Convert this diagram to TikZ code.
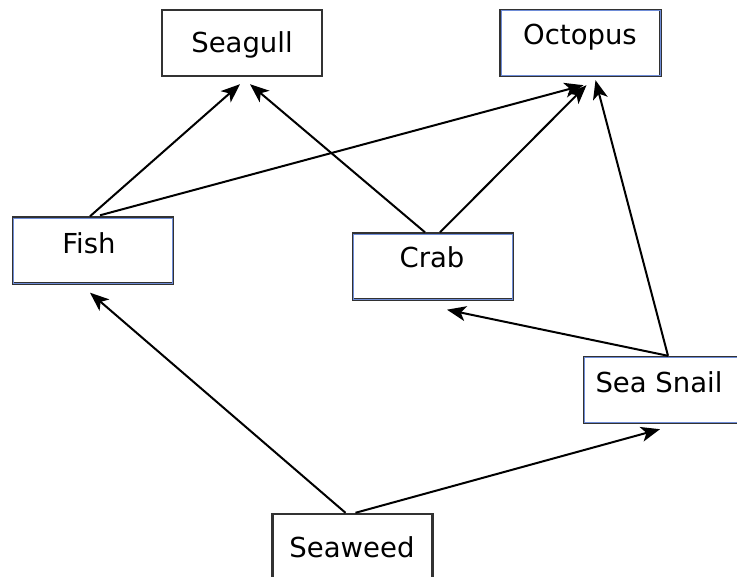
\documentclass[tikz,border=0pt]{standalone}
\usepackage{fontspec}
\setmainfont{DejaVu Sans}
\usetikzlibrary{arrows.meta}
\definecolor{edgeblue}{RGB}{110,140,215}
\definecolor{edgegray}{RGB}{50,50,50}
\begin{document}
\begin{tikzpicture}[x=1pt,y=-1pt,
  box/.style={draw=edgegray,line width=2.4pt,minimum width=160pt,minimum height=66pt,inner sep=0pt,fill=white},
  inner/.style={draw=edgeblue,line width=0.9pt},
  lbl/.style={anchor=base,inner sep=0pt,font=\fontsize{27.5}{31}\selectfont},
  arr/.style={line width=2pt,-{Stealth[length=19pt,width=15pt,inset=5pt]}}]
\useasboundingbox[fill=white] (0,0) rectangle (737,577);
% boxes
\node[box] (seagull) at (242,43) {};
\node[box] (octopus) at (580.5,43) {};
\node[box] (fish) at (93,250.5) {};
\node[box] (crab) at (433,266.5) {};
\node[box] (snail) at (664,390) {};
\node[box] (seaweed) at (352.5,547) {};
\foreach \n in {octopus,fish,crab,snail}
  \draw[inner] ([shift={(1.7pt,-1.7pt)}]\n.north west) rectangle ([shift={(-1.7pt,1.7pt)}]\n.south east);
% labels
\node[lbl] (tseagull) at (242,53) {Seagull};
\node[lbl] (toctopus) at (580,45) {Octopus};
\node[lbl] (tfish) at (89,254) {Fish};
\node[lbl] (tcrab) at (432,268) {Crab};
\node[lbl] (tsnail) at (659,393) {Sea Snail};
\node[lbl] (tseaweed) at (352,557) {Seaweed};
% arrows
\draw[arr] ([xshift=-3pt]fish.north) -- ([xshift=-2pt,yshift=-7pt]seagull.south);
\draw[arr] ([xshift=-8pt]crab.north) -- ([xshift=8pt,yshift=-7pt]seagull.south);
\draw[arr] ([xshift=7pt,yshift=1pt]fish.north) -- ([xshift=3pt,yshift=-8pt]octopus.south);
\draw[arr] ([xshift=7pt]crab.north) -- ([xshift=6pt,yshift=-8pt]octopus.south);
\draw[arr] ([xshift=4pt]snail.north) -- ([xshift=15pt,yshift=-3pt]octopus.south);
\draw[arr] ([xshift=4pt]snail.north) -- ([xshift=14pt,yshift=-9pt]crab.south);
\draw[arr] ([xshift=-7pt]seaweed.north) -- ([xshift=-3pt,yshift=-8pt]fish.south);
\draw[arr] ([xshift=3pt]seaweed.north) -- ([xshift=-4pt,yshift=-5pt]snail.south);
\end{tikzpicture}
\end{document}
